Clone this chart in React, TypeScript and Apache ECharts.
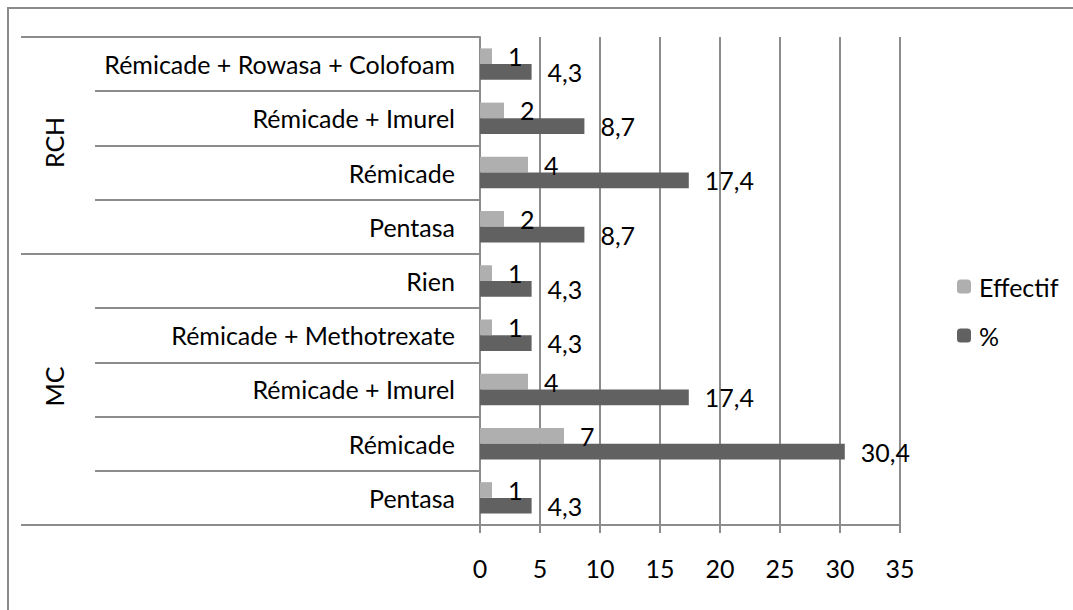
import React, { useEffect, useRef } from "react";
import * as echarts from "echarts";

const categories = [
  "Pentasa",
  "Rémicade",
  "Rémicade + Imurel",
  "Rémicade + Methotrexate",
  "Rien",
  "Pentasa",
  "Rémicade",
  "Rémicade + Imurel",
  "Rémicade + Rowasa + Colofoam",
];
const groups = [
  { name: "MC", count: 5 },
  { name: "RCH", count: 4 },
];
const effectif = [1, 7, 4, 1, 1, 2, 4, 2, 1];
const percent = [4.3, 30.4, 17.4, 4.3, 4.3, 8.7, 17.4, 8.7, 4.3];
const xTicks = { min: 0, max: 35, interval: 5 };

const FONT = "Lato";
const FS = 25;
const LINE = "#8c8c8c";

export default function App() {
  const ref = useRef<HTMLDivElement>(null);
  useEffect(() => {
    const chart = echarts.init(ref.current!, null, { renderer: "svg" });
    const keys = categories.map((c, i) => i + "|" + c);
    const fmt = (v: number) => String(v).replace(".", ",");
    chart.setOption({
      animation: false,
      textStyle: { fontFamily: FONT },
      grid: { left: 480, top: 37, width: 420, height: 488, containLabel: false },
      legend: {
        orient: "vertical",
        left: 957,
        top: 274,
        padding: 0,
        itemGap: 24,
        itemWidth: 14,
        itemHeight: 14,
        data: ["Effectif", "%"],
        textStyle: { fontFamily: FONT, fontSize: FS, lineHeight: 24, color: "#000", padding: [0, 0, 0, 3] },
      },
      xAxis: {
        type: "value",
        min: xTicks.min,
        max: xTicks.max,
        interval: xTicks.interval,
        axisLine: { show: true, lineStyle: { color: LINE, width: 2 } },
        axisTick: { show: true, length: 8, lineStyle: { color: LINE, width: 2 } },
        splitLine: { show: true, lineStyle: { color: LINE, width: 2 } },
        axisLabel: { fontFamily: FONT, fontSize: FS, color: "#000", margin: 30 },
      },
      yAxis: {
        type: "category",
        data: keys,
        axisLine: { show: true, lineStyle: { color: LINE, width: 2 } },
        axisTick: { show: true, length: 385, lineStyle: { color: LINE, width: 2 } },
        axisLabel: {
          fontFamily: FONT,
          fontSize: FS,
          color: "#000",
          margin: 25,
          formatter: (v: string) => v.split("|")[1],
        },
        splitLine: { show: false },
      },
      series: [
        {
          name: "Effectif",
          type: "bar",
          data: effectif,
          barGap: "0%",
          barCategoryGap: "42%",
          itemStyle: { color: "#AFAFAF" },
          label: {
            show: true,
            position: "right",
            distance: 16,
            fontFamily: FONT,
            fontSize: FS,
            color: "#000",
            formatter: (p: any) => fmt(p.value),
          },
        },
        {
          name: "%",
          type: "bar",
          data: percent,
          barGap: "0%",
          barCategoryGap: "42%",
          itemStyle: { color: "#616161" },
          label: {
            show: true,
            position: "right",
            distance: 16,
            fontFamily: FONT,
            fontSize: FS,
            color: "#000",
            formatter: (p: any) => fmt(p.value),
          },
        },
      ],
    });

    const c0 = chart.convertToPixel({ yAxisIndex: 0 }, keys[0]) as number;
    const c1 = chart.convertToPixel({ yAxisIndex: 0 }, keys[1]) as number;
    const step = c1 - c0;
    const boundary = (k: number) => c0 + (k - 0.5) * step;
    const graphics: any[] = [
      {
        type: "rect",
        shape: { x: 8, y: 8, width: 1200, height: 1000 },
        style: { fill: "none", stroke: "#8a8a8a", lineWidth: 2 },
        silent: true,
      },
    ];
    let start = 0;
    const bounds = [0];
    groups.forEach((g) => {
      const end = start + g.count;
      bounds.push(end);
      const mid = (boundary(start) + boundary(end)) / 2;
      graphics.push({
        type: "text",
        x: 54,
        y: mid - 3,
        rotation: Math.PI / 2,
        style: {
          text: g.name,
          fontFamily: FONT,
          fontSize: FS,
          fill: "#000",
          align: "center",
          verticalAlign: "middle",
        },
      });
      start = end;
    });
    bounds.forEach((k) => {
      const y = Math.round(boundary(k));
      graphics.push({
        type: "line",
        shape: { x1: 21, y1: y, x2: 480, y2: y },
        style: { stroke: LINE, lineWidth: 2 },
        silent: true,
      });
    });
    chart.setOption({ graphic: graphics });
    return () => chart.dispose();
  }, []);
  return (
    <div
      ref={ref}
      style={{ position: "absolute", left: 0, top: 0, width: 1073, height: 610 }}
    />
  );
}
